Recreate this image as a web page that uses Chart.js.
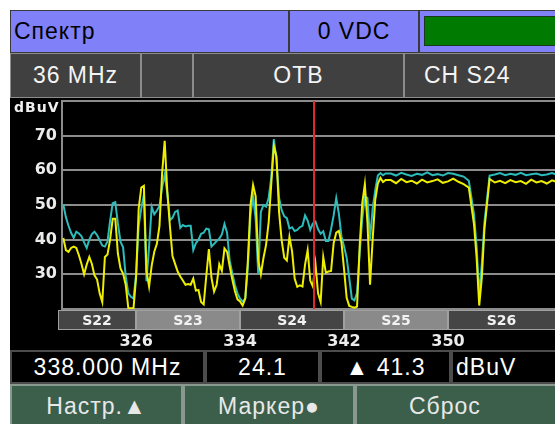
<!DOCTYPE html>
<html lang="ru">
<head>
<meta charset="UTF-8">
<title>Спектр</title>
<script src="https://cdn.jsdelivr.net/npm/chart.js"></script>
<style>
    body {
        margin: 0;
        background: #fff;
        width: 555px;
        height: 424px;
        overflow: hidden;
        position: relative;
        font-family: "Liberation Sans", Arial, sans-serif;
    }
    .cell {
        position: absolute;
        box-sizing: border-box;
        font-size: 23px;
        letter-spacing: 1px;
        display: flex;
        align-items: center;
        justify-content: center;
        white-space: nowrap;
    }
    .r1 { background: #8080f8; border: 1px solid #3a3a3a; color: #000; }
    .r2 { background: #404040; border: 1px solid #8c8c8c; color: #f4f4f4; }
    .r3 { background: #000; border: 2px solid #4c4c4c; color: #fff; }
    .r4 { background: #3b5f4a; border: 2px solid #8a9890; color: #e8e8e8; }
    #chartBox {
        position: absolute;
        left: 10px;
        top: 98px;
        width: 545px;
        height: 252px;
        background: #000;
    }
    #unit {
        position: absolute;
        left: 14px;
        top: 99px;
        font: bold 14px "DejaVu Sans", sans-serif;
        letter-spacing: 1px;
        color: #f0f0f0;
    }
</style>
</head>
<body>
    <div class="cell r1" style="left:10px; top:10px; width:279px; height:43px; justify-content:flex-start; padding-left:3px;">Спектр</div>
    <div class="cell r1" style="left:289px; top:10px; width:130px; height:43px;">0 VDC</div>
    <div class="cell r1" style="left:419px; top:10px; width:160px; height:43px;"></div>
    <div style="position:absolute; left:424px; top:16px; width:150px; height:30px; background:#007a00; border:1px solid #1a3a1a; box-sizing:border-box;"></div>

    <div class="cell r2" style="left:10px; top:53px; width:131px; height:45px;">36 MHz</div>
    <div class="cell r2" style="left:141px; top:53px; width:52px; height:45px;"></div>
    <div class="cell r2" style="left:193px; top:53px; width:211px; height:45px;">ОТВ</div>
    <div class="cell r2" style="left:404px; top:53px; width:180px; height:45px; justify-content:flex-start; padding-left:19px;">CH S24</div>

    <div id="chartBox"><canvas id="spec"></canvas></div>
    <div id="unit">dBuV</div>

    <div class="cell r3" style="left:10px; top:350px; width:195px; height:34px;">338.000 MHz</div>
    <div class="cell r3" style="left:205px; top:350px; width:115px; height:34px;">24.1</div>
    <div class="cell r3" style="left:320px; top:350px; width:131px; height:34px;">▲ 41.3</div>
    <div class="cell r3" style="left:451px; top:350px; width:140px; height:34px; justify-content:flex-start; padding-left:3px;">dBuV</div>

    <div class="cell r4" style="left:10px; top:384px; width:173px; height:44px;">Настр.▲</div>
    <div class="cell r4" style="left:183px; top:384px; width:172px; height:44px;">Маркер●</div>
    <div class="cell r4" style="left:355px; top:384px; width:240px; height:44px; justify-content:flex-start; padding-left:52px;">Сброс</div>

<script>
    // частоты отсчётов, МГц
    const freqs = [
        320.4, 320.6, 320.8, 321.0, 321.2, 321.4, 321.6, 321.8, 322.0, 322.2,
        322.4, 322.6, 322.8, 323.0, 323.2, 323.4, 323.6, 323.8, 324.0, 324.2,
        324.4, 324.6, 324.8, 325.0, 325.2, 325.4, 325.6, 325.8, 326.0, 326.2,
        326.4, 326.6, 326.8, 327.0, 327.2, 327.4, 327.6, 327.8, 328.0, 328.2,
        328.4, 328.6, 328.8, 329.0, 329.2, 329.4, 329.6, 329.8, 330.0, 330.2,
        330.4, 330.6, 330.8, 331.0, 331.2, 331.4, 331.6, 331.8, 332.0, 332.2,
        332.4, 332.6, 332.8, 333.0, 333.2, 333.4, 333.6, 333.8, 334.0, 334.2,
        334.4, 334.6, 334.8, 335.0, 335.2, 335.4, 335.6, 335.8, 336.0, 336.2,
        336.4, 336.6, 336.8, 337.0, 337.2, 337.4, 337.6, 337.8, 338.0, 338.2,
        338.4, 338.6, 338.8, 339.0, 339.2, 339.4, 339.6, 339.8, 340.0, 340.2,
        340.4, 340.6, 340.8, 341.0, 341.2, 341.4, 341.6, 341.8, 342.0, 342.2,
        342.4, 342.6, 342.8, 343.0, 343.2, 343.4, 343.6, 343.8, 344.0, 344.2,
        344.4, 344.6, 344.8, 345.0, 345.2,
        345.6, 346.0, 346.4, 346.8, 347.2, 347.6, 348.0, 348.4, 348.8, 349.2,
        349.6, 350.0, 350.4, 350.8, 351.2, 351.6, 352.0, 352.2, 352.4, 352.6,
        352.8, 353.2, 353.6, 354.0, 354.4, 354.8, 355.2, 355.6, 356.0, 356.4,
        356.8, 357.2, 357.6, 358.0, 358.4
    ];

    // текущий спектр (жёлтый), dBuV
    const traceLive = [
        40.5, 37, 36.5, 37.6, 38, 37.6, 35.5, 33, 30, 32.8,
        35, 33, 29.7, 28.5, 24.5, 22, 35, 35.7, 40, 46,
        46, 36, 31.7, 30.2, 27, 20.3, 20.2, 20.2, 29, 49,
        55, 55.5, 31, 26.5, 32.5, 36.5, 38.8, 44, 59, 68.5,
        54, 44, 35.3, 33, 30.8, 29.4, 28.2, 27, 27.2, 27,
        28.8, 25.3, 25.5, 22, 21.3, 29.5, 37.3, 29, 25, 27,
        32.9, 31, 37.5, 36.5, 32.3, 28.6, 25.2, 22.8, 22.2, 21,
        23, 34, 50, 55.8, 52.5, 34, 30, 34.7, 38.5, 45,
        56, 67, 64, 48, 39.8, 34.8, 34, 40.8, 36.7, 28.8,
        26.4, 26.8, 26.5, 32.8, 37, 28.2, 26.5, 33, 24.5, 22,
        35, 30.5, 30.8, 31, 39, 42, 42.5, 39.2, 31.5, 23.2,
        20.9, 20.6, 20.4, 20.7, 38, 50.5, 56, 45, 27, 40,
        51.5, 56.2, 57.8, 56.6, 57.2,
        57.2, 56.3, 57.5, 56.6, 57.0, 56.2, 57.3, 56.5, 56.9, 57.4,
        56.4, 56.8, 57.6, 56.7, 56.0, 55, 44.4, 34.7, 21, 29,
        43, 57.5, 56.5, 57.0, 56.3, 57.2, 56.6, 56.9, 56.1, 57.3,
        56.5, 56.9, 56.2, 57.1, 56.6
    ];

    // максимум (бирюзовый), dBuV
    const traceMax = [
        50.2, 46.5, 44, 42, 40.5, 42.3, 41.8, 41, 39.2, 37.6,
        40, 41.6, 42.3, 41.3, 39.8, 38.3, 38, 39.5, 45.4, 50.5,
        50.8, 44.7, 39.4, 37.8, 29.5, 24.5, 23.5, 23, 30, 44,
        49, 53, 28, 38, 49.5, 47.3, 48.4, 49.7, 55, 58.8,
        53.5, 45.6, 46.3, 48, 48.4, 43.4, 44.2, 43.8, 44, 44,
        37, 39, 40, 41.7, 42, 43.2, 43, 38, 38.8, 39.6,
        40.3, 41.5, 44.5, 42, 34, 30.3, 27, 24.5, 23, 22.2,
        23, 32, 47, 52.5, 46, 30, 48, 50, 49.5, 52,
        58, 69, 63, 52, 48.5, 46.7, 46.2, 43.2, 43.6, 42.5,
        42.8, 43.6, 44, 47, 45.5, 42.8, 44.7, 45.2, 43, 41.7,
        42.4, 39.6, 39.6, 43, 47, 52, 47.5, 41, 38, 34.8,
        29, 23, 22.5, 24.6, 36, 46, 52.5, 52, 40, 49,
        54.3, 58.5, 59.2, 58.6, 59.1,
        59.1, 58.5, 59.3, 58.8, 58.4, 59.0, 58.7, 59.4, 58.6, 58.9,
        58.5, 59.2, 59.0, 58.6, 58.2, 57, 47.3, 38, 24, 33,
        45, 58.5, 58.8, 59.2, 58.6, 59.0, 58.7, 59.3, 58.6, 58.9,
        59.1, 58.6, 58.8, 59.2, 58.7
    ];

    const xTicks = [326, 334, 342, 350];
    const yTicks = [30, 40, 50, 60, 70];
    const yGrid = [20, 30, 40, 50, 60, 70, 80];

    const chNames = ['S22', 'S23', 'S24', 'S25', 'S26'];
    const chEdges = [320, 326, 334, 342, 350, 358.5];

    const markerFreq = 339.65;

    // полоса каналов под графиком
    const channelBar = {
        id: 'channelBar',
        afterDraw(chart) {
            const { ctx, chartArea, scales: { x } } = chart;
            const top = chartArea.bottom + 1;
            const h = 20;
            ctx.save();
            chNames.forEach((name, i) => {
                const x0 = Math.round(x.getPixelForValue(chEdges[i]));
                const x1 = Math.round(Math.min(x.getPixelForValue(chEdges[i + 1]), chart.width + 2));
                ctx.fillStyle = i % 2 ? '#8a8a8a' : '#454545';
                ctx.fillRect(x0, top, x1 - x0, h);
                ctx.strokeStyle = '#a0a0a0';
                ctx.lineWidth = 1;
                ctx.strokeRect(x0 + 0.5, top + 0.5, x1 - x0 - 1, h - 1);
                ctx.fillStyle = '#f2f2f2';
                ctx.font = 'bold 14px "DejaVu Sans"';
                ctx.textAlign = 'center';
                ctx.textBaseline = 'middle';
                ctx.fillText(name, (x0 + Math.min(x1, chart.width)) / 2, top + h / 2 + 1);
            });
            ctx.restore();
        }
    };

    // маркер
    const markerLine = {
        id: 'markerLine',
        afterDatasetsDraw(chart) {
            const { ctx, chartArea, scales: { x } } = chart;
            const px = Math.round(x.getPixelForValue(markerFreq));
            ctx.save();
            ctx.strokeStyle = '#e02828';
            ctx.lineWidth = 2;
            ctx.beginPath();
            ctx.moveTo(px, chartArea.top);
            ctx.lineTo(px, chartArea.bottom);
            ctx.stroke();
            ctx.restore();
        }
    };

    const tickFont = { family: 'DejaVu Sans', size: 16, weight: 'bold' };

    new Chart(document.getElementById('spec').getContext('2d'), {
        type: 'line',
        data: {
            datasets: [
                {
                    label: 'Live',
                    data: freqs.map((f, i) => ({ x: f, y: traceLive[i] })),
                    borderColor: '#eeee00',
                    borderWidth: 2,
                    pointRadius: 0,
                    tension: 0
                },
                {
                    label: 'Max',
                    data: freqs.map((f, i) => ({ x: f, y: traceMax[i] })),
                    borderColor: '#2cbcbc',
                    borderWidth: 2,
                    pointRadius: 0,
                    tension: 0
                }
            ]
        },
        options: {
            animation: false,
            responsive: true,
            maintainAspectRatio: false,
            layout: { padding: { top: 3, left: 0, right: 0, bottom: 0 } },
            plugins: {
                legend: { display: false },
                tooltip: { enabled: false }
            },
            scales: {
                x: {
                    type: 'linear',
                    min: 320.3,
                    max: 358.23,
                    afterBuildTicks: s => { s.ticks = xTicks.map(v => ({ value: v })); },
                    afterFit: s => { s.height = 41; s.paddingLeft = 0; s.paddingRight = 0; },
                    grid: { display: false, drawTicks: false },
                    border: { display: false },
                    ticks: {
                        color: '#ececec',
                        font: tickFont,
                        padding: 23,
                        maxRotation: 0,
                        autoSkip: false
                    }
                },
                y: {
                    min: 20,
                    max: 80,
                    afterBuildTicks: s => { s.ticks = yGrid.map(v => ({ value: v })); },
                    afterFit: s => { s.width = 52; s.paddingTop = 0; s.paddingBottom = 0; },
                    grid: { color: '#8c8c8c', lineWidth: 2, drawTicks: false },
                    border: { display: true, color: '#8c8c8c', width: 2 },
                    ticks: {
                        color: '#ececec',
                        font: tickFont,
                        padding: 5,
                        callback: v => yTicks.includes(v) ? v : ''
                    }
                }
            }
        },
        plugins: [channelBar, markerLine]
    });
</script>
</body>
</html>
